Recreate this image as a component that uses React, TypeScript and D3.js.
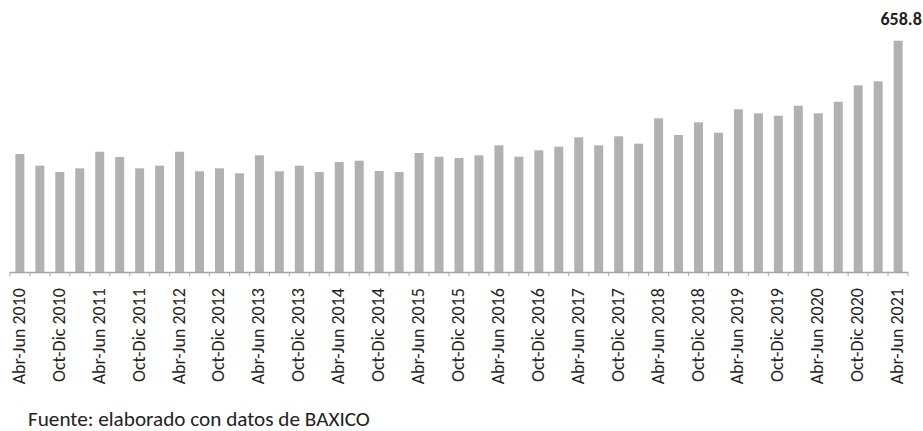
import React from "react";
import * as d3 from "d3";

const quarters = [
  "Abr-Jun 2010","Jul-Sep 2010","Oct-Dic 2010","Ene-Mar 2011",
  "Abr-Jun 2011","Jul-Sep 2011","Oct-Dic 2011","Ene-Mar 2012",
  "Abr-Jun 2012","Jul-Sep 2012","Oct-Dic 2012","Ene-Mar 2013",
  "Abr-Jun 2013","Jul-Sep 2013","Oct-Dic 2013","Ene-Mar 2014",
  "Abr-Jun 2014","Jul-Sep 2014","Oct-Dic 2014","Ene-Mar 2015",
  "Abr-Jun 2015","Jul-Sep 2015","Oct-Dic 2015","Ene-Mar 2016",
  "Abr-Jun 2016","Jul-Sep 2016","Oct-Dic 2016","Ene-Mar 2017",
  "Abr-Jun 2017","Jul-Sep 2017","Oct-Dic 2017","Ene-Mar 2018",
  "Abr-Jun 2018","Jul-Sep 2018","Oct-Dic 2018","Ene-Mar 2019",
  "Abr-Jun 2019","Jul-Sep 2019","Oct-Dic 2019","Ene-Mar 2020",
  "Abr-Jun 2020","Jul-Sep 2020","Oct-Dic 2020","Ene-Mar 2021",
  "Abr-Jun 2021",
];

const values = [
  336.1, 302.8, 284.8, 295.3, 342.6, 327.5, 295.3, 302.8, 342.6, 286.8,
  295.3, 281.1, 332.4, 286.8, 302.8, 284.8, 313.3, 317.0, 287.6, 284.8,
  338.9, 328.4, 324.7, 332.4, 360.8, 328.4, 346.6, 356.9, 383.6, 360.8,
  386.5, 365.4, 437.7, 390.2, 426.3, 396.7, 463.4, 452.0, 445.1, 473.6,
  452.0, 485.0, 531.7, 543.1, 658.8,
];

const source = "Fuente: elaborado con datos de BAXICO";
const highlightLabel = "658.8";

const W = 923;
const H = 431;
const left = 10;
const right = 908;
const baseY = 272;
const topY = 40.7;

export default function App() {
  const x = d3.scaleBand<string>().domain(quarters).range([left, right]).paddingInner(0.55).paddingOuter(0.27);
  const y = d3.scaleLinear().domain([0, 658.8]).range([baseY, topY]);
  const bw = x.bandwidth();
  const font = "Carlito, 'Liberation Sans Narrow', 'DejaVu Sans Condensed', 'Open Sans', sans-serif";
  const last = quarters[quarters.length - 1];

  return (
    <svg width={W} height={H} style={{ position: "absolute", left: 0, top: 0, background: "#fff" }}>
      {quarters.map((q, i) => (
        <rect key={q} x={x(q)} y={y(values[i])} width={bw} height={baseY - y(values[i])} fill="#b1b1b1" />
      ))}
      <line x1={left} x2={right} y1={baseY + 0.5} y2={baseY + 0.5} stroke="#a6a6a6" strokeWidth={1.5} />
      {d3.range(quarters.length + 1).map((i) => {
        const tx = left + i * (right - left) / quarters.length;
        return <line key={i} x1={tx} x2={tx} y1={baseY} y2={baseY + 4} stroke="#a6a6a6" strokeWidth={1} />;
      })}
      {quarters.map((q, i) =>
        i % 2 === 0 ? (
          <text
            key={"l" + q}
            transform={`translate(${(x(q) as number) + bw / 2 + 5},${baseY + 16}) rotate(-90)`}
            textAnchor="end"
            fontFamily={font}
            fontSize={18}
            fill="#222"
          >
            {q}
          </text>
        ) : null
      )}
      <text
        x={(x(last) as number) + bw / 2 + 3}
        y={25}
        textAnchor="middle"
        fontFamily={font}
        fontWeight="bold"
        fontSize={18}
        fill="#222"
      >
        {highlightLabel}
      </text>
      <text x={28} y={426} fontFamily={font} fontSize={21.2} fill="#222">
        {source}
      </text>
    </svg>
  );
}
